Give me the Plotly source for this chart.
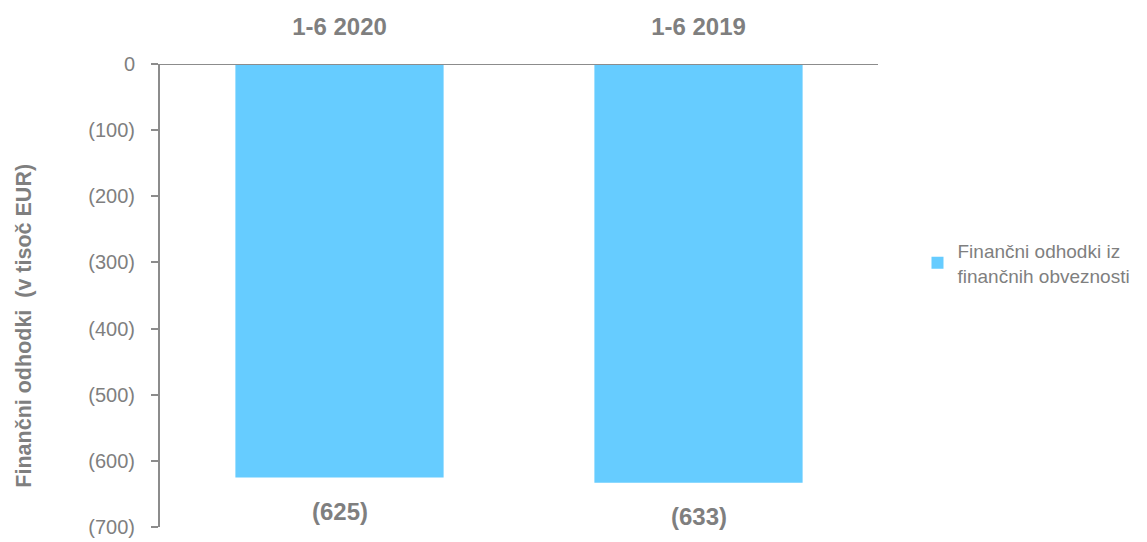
import plotly.graph_objects as go

categories = ["1-6 2020", "1-6 2019"]
values = [-625, -633]
series_name = "Finančni odhodki iz<br>finančnih obveznosti"
tick_values = [0, -100, -200, -300, -400, -500, -600, -700]
tick_labels = ["0" if v == 0 else f"({abs(v)})" for v in tick_values]
bar_labels = [f"({abs(v)})" for v in values]
y_title = "Finančni odhodki  (v tisoč EUR)"

FONT = "Liberation Sans Narrow, Arial Narrow, Liberation Sans, sans-serif"
GRAY = "#7f7f7f"

fig = go.Figure()
fig.add_trace(go.Bar(
    x=categories, y=values, name=series_name,
    marker=dict(color="#66CCFF", line=dict(width=0)),
    hoverinfo="x+y",
))

for cat, val, lab in zip(categories, values, bar_labels):
    fig.add_annotation(x=cat, y=val, xref="x", yref="y",
                       text=f"<b>{lab}</b>", showarrow=False,
                       yanchor="middle", yshift=-34,
                       font=dict(family=FONT, size=24, color=GRAY))

fig.add_annotation(x=-0.19, y=0.434, xref="paper", yref="paper",
                   text=f"<b>{y_title}</b>", showarrow=False, textangle=-90,
                   xanchor="center", yanchor="middle",
                   font=dict(family=FONT, size=21.5, color=GRAY))

fig.update_layout(
    width=1139, height=534,
    margin=dict(l=152, r=267, t=56, b=15),
    paper_bgcolor="white", plot_bgcolor="white",
    bargap=0.42,
    showlegend=True,
    legend=dict(x=1.055, y=0.57, xanchor="left", yanchor="middle",
                font=dict(family=FONT, size=19, color=GRAY),
                itemwidth=30, tracegroupgap=0),
    xaxis=dict(side="top", showline=False, ticks="", showgrid=False,
               automargin=False,
               tickfont=dict(family=FONT, size=24, color=GRAY),
               ticklabelstandoff=23,
               tickprefix="<b>", ticksuffix="</b>"),
    yaxis=dict(range=[-700, 0], tickvals=tick_values, ticktext=tick_labels,
               showgrid=False, zeroline=False, showline=True,
               linecolor="#8c8c8c", linewidth=2,
               ticks="outside", ticklen=7, tickcolor="#8c8c8c", tickwidth=1.5,
               tickfont=dict(family=FONT, size=20, color=GRAY),
               ticklabelstandoff=12,
               automargin=False),
)

fig.add_shape(type="line", xref="paper", yref="y",
              x0=-0.012, x1=1.0, y0=0, y1=0,
              line=dict(color="#8c8c8c", width=2))

fig.write_html("out.html")
